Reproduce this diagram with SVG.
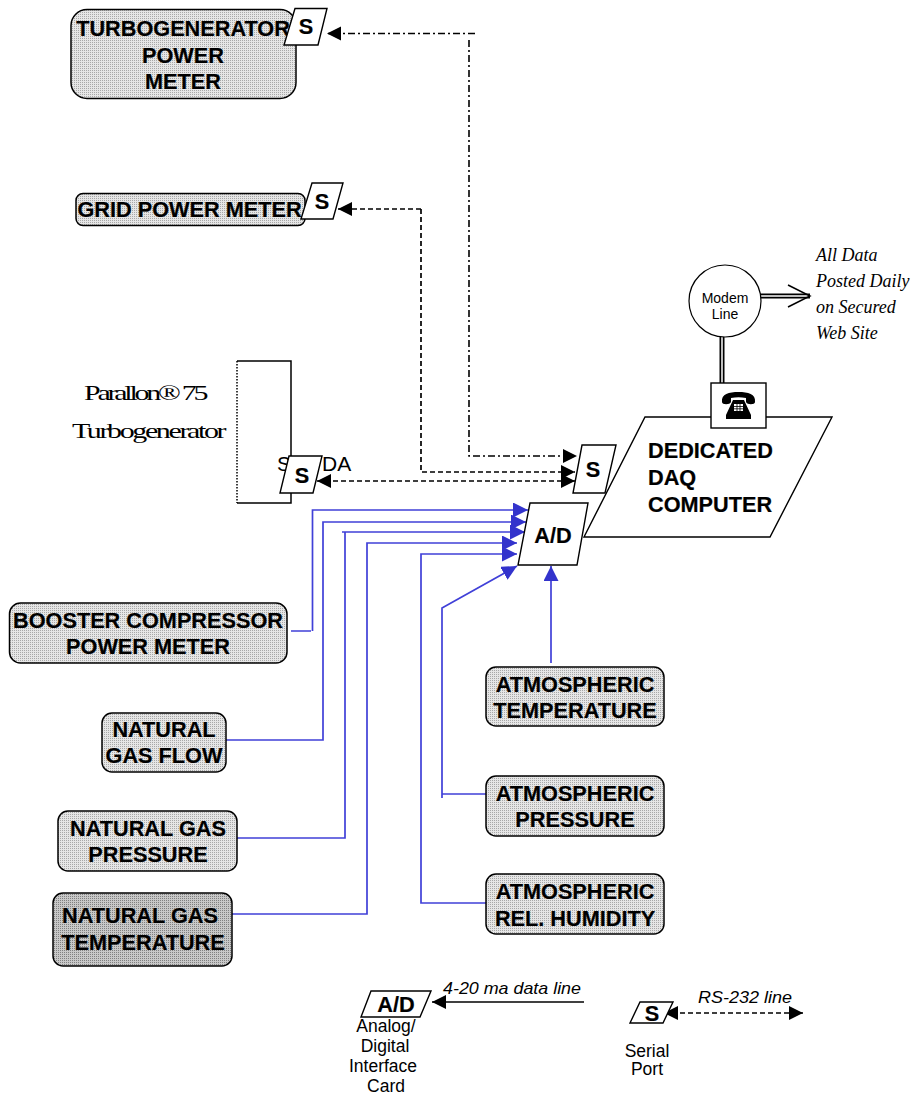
<svg xmlns="http://www.w3.org/2000/svg" width="912" height="1095" viewBox="0 0 912 1095">
<style>
text{font-family:"Liberation Sans",Arial,sans-serif;fill:#000}
.b{font-weight:bold;font-size:21.7px;text-anchor:middle;stroke:#000;stroke-width:.2}
.box{stroke:#000;stroke-width:1.5;fill:url(#dots)}
.dark{fill:url(#dotsDark)}
.para{fill:#fff;stroke:#000;stroke-width:1.4}
.lab{font-size:17.5px;text-anchor:middle}
.it{font-family:"Liberation Serif","Times New Roman",serif;font-style:italic;font-size:18px}
.si{font-style:italic;font-size:17px}
.ser{font-family:"Liberation Serif","Times New Roman",serif;font-size:20px}
.blue{fill:none;stroke:#4040d8;stroke-width:1.7}
.bh{marker-end:url(#ah)}
.dash{fill:none;stroke:#000;stroke-width:1.7;stroke-dasharray:5 3}
.dd{fill:none;stroke:#000;stroke-width:1.6;stroke-dasharray:7 3 2 3}
.sol{fill:none;stroke:#000;stroke-width:1.5}
</style>
<defs>
<pattern id="dots" width="2" height="2" patternUnits="userSpaceOnUse"><rect width="2" height="2" fill="#e6e6e6"/><rect width="1" height="1" fill="#a8a8a8"/></pattern>
<pattern id="dotsDark" width="2" height="2" patternUnits="userSpaceOnUse"><rect width="2" height="2" fill="#c8c8c8"/><rect width="1" height="1" fill="#808080"/></pattern>
<marker id="ah" markerUnits="userSpaceOnUse" markerWidth="16" markerHeight="16" refX="15" refY="7.500" orient="auto"><path d="M0 0L15 7.500L0 15Z" fill="#3333cc"/></marker>
<marker id="k" markerUnits="userSpaceOnUse" markerWidth="15" markerHeight="15" refX="14" refY="7" orient="auto"><path d="M0 0L14 7L0 14Z" fill="#000"/></marker>
<marker id="ks" markerUnits="userSpaceOnUse" markerWidth="15" markerHeight="15" refX="0" refY="7" orient="auto"><path d="M14 0L0 7L14 14Z" fill="#000"/></marker>
</defs>

<g id="turbine">
<path d="M237 361H291V503H237" class="sol"/>
<path d="M237 361V503" fill="none" stroke="#000" stroke-width="1.5" stroke-dasharray="1.5 1.5"/>
<text class="ser" transform="translate(84,400) scale(1.5,1)" textLength="83" lengthAdjust="spacing">Parallon® 75</text>
<text class="ser" transform="translate(72,438) scale(1.5,1)" textLength="103" lengthAdjust="spacing">Turbogenerator</text>
<text x="277" y="471" font-size="21">S</text>
<text x="322" y="471" font-size="21">DA</text>
</g>

<g id="connectors">
<path class="dd" d="M475 33.500H327" marker-end="url(#k)"/>
<path class="dd" d="M469 40V456H577" marker-end="url(#k)"/>
<path class="dash" d="M421 209H338" marker-end="url(#k)"/>
<path class="dash" d="M421 209V472H575" marker-end="url(#k)"/>
<path class="dash" d="M317 481H575" marker-start="url(#ks)" marker-end="url(#k)"/>
<path class="blue bh" d="M291 631H311M312.500 631V510H528"/>
<path class="blue bh" d="M226 740H323V522H526"/>
<path class="blue bh" d="M237 838H345V532M342 532H525"/>
<path class="blue bh" d="M226 914H367V543H517"/>
<path class="blue bh" d="M486 903H421V554H517"/>
<path class="blue bh" d="M486 794H442M442 798V608L517 566"/>
<path class="blue bh" d="M551 663V566"/>
<path d="M722 337V383" fill="none" stroke="#000" stroke-width="5"/>
<path d="M722 337V383" fill="none" stroke="#fff" stroke-width="1.500"/>
<path d="M761 296H810" fill="none" stroke="#000" stroke-width="5"/>
<path d="M761 296H808" fill="none" stroke="#fff" stroke-width="1.500"/>
<path d="M788 285L810 296L788 307" class="sol"/>
<path class="sol" d="M584 1002H432" marker-end="url(#k)"/>
<path class="dash" d="M664 1013H803" marker-start="url(#ks)" marker-end="url(#k)"/>
</g>

<g id="turbogenerator-power-meter">
<rect class="box" x="71" y="9.500" width="225" height="89" rx="16"/>
<text class="b" x="183" y="36">TURBOGENERATOR</text>
<text class="b" x="183" y="63">POWER</text>
<text class="b" x="183" y="89">METER</text>
</g>
<g id="turbogenerator-serial">
<path class="para" d="M295 8.500H327L318 45H284Z"/>
<text class="b" x="306" y="34">S</text>
</g>
<g id="grid-power-meter">
<rect class="box" x="76" y="193.500" width="229" height="32" rx="7"/>
<text class="b" x="189.500" y="217">GRID POWER METER</text>
</g>
<g id="grid-serial">
<path class="para" d="M312 183H343L333 219H301Z"/>
<text class="b" x="322" y="209">S</text>
</g>
<g id="turbine-serial">
<path class="para" d="M289 456H322L313 493H280Z"/>
<text class="b" x="302" y="483">S</text>
</g>
<g id="daq-computer">
<path class="para" d="M645 417H832L770 537H584Z"/>
<text class="b" x="648" y="458" style="text-anchor:start">DEDICATED</text>
<text class="b" x="648" y="485" style="text-anchor:start">DAQ</text>
<text class="b" x="648" y="512" style="text-anchor:start">COMPUTER</text>
</g>
<g id="daq-serial">
<path class="para" d="M582 445H616L605 493H573Z"/>
<text class="b" x="593" y="477">S</text>
</g>
<g id="ad-card">
<path class="para" d="M530 503H588L577 565H518Z"/>
<text class="b" x="553" y="543">A/D</text>
</g>
<g id="telephone">
<rect x="711" y="383" width="55" height="45" fill="#fff" stroke="#000" stroke-width="1.4"/>
<path d="M722 402C721 394 729 392 738.500 392C748 392 756 394 755 402C755 405 747 405 746 402L746 398C741 397 736 397 731 398L731 402C730 405 722 405 722 402Z" fill="#000"/>
<path d="M733 400H744L751 415V419H726V415Z" fill="#000"/>
<rect x="734" y="404" width="9" height="7" fill="#fff"/>
<path d="M737 404V411M740 404V411M734 406.500H743M734 408.800H743" stroke="#000" stroke-width=".8"/>
</g>
<g id="modem-line">
<circle cx="725" cy="301" r="36" fill="#fff" stroke="#000" stroke-width="1.200"/>
<text x="725" y="302.500" font-size="14" text-anchor="middle">Modem</text>
<text x="725" y="319" font-size="14" text-anchor="middle">Line</text>
</g>
<g id="web-note">
<text class="it" x="816" y="261">All Data</text>
<text class="it" x="816" y="287">Posted Daily</text>
<text class="it" x="816" y="313">on Secured</text>
<text class="it" x="816" y="339">Web Site</text>
</g>
<g id="booster-compressor-power-meter">
<rect class="box" x="9.500" y="603" width="277.500" height="60" rx="11"/>
<text class="b" x="148" y="628">BOOSTER COMPRESSOR</text>
<text class="b" x="148" y="654">POWER METER</text>
</g>
<g id="natural-gas-flow">
<rect class="box" x="102" y="713" width="124" height="59" rx="10"/>
<text class="b" x="164" y="737">NATURAL</text>
<text class="b" x="164" y="763">GAS FLOW</text>
</g>
<g id="natural-gas-pressure">
<rect class="box" x="58" y="811" width="179" height="60" rx="10"/>
<text class="b" x="148" y="836">NATURAL GAS</text>
<text class="b" x="148" y="862">PRESSURE</text>
</g>
<g id="natural-gas-temperature">
<rect class="box dark" x="53" y="893" width="179" height="73" rx="10"/>
<text class="b" x="140" y="923">NATURAL GAS</text>
<text class="b" x="143" y="950">TEMPERATURE</text>
</g>
<g id="atmospheric-temperature">
<rect class="box" x="486" y="667" width="178" height="59" rx="10"/>
<text class="b" x="575" y="692">ATMOSPHERIC</text>
<text class="b" x="575" y="718">TEMPERATURE</text>
</g>
<g id="atmospheric-pressure">
<rect class="box" x="486" y="776" width="178" height="60" rx="10"/>
<text class="b" x="575" y="801">ATMOSPHERIC</text>
<text class="b" x="575" y="827">PRESSURE</text>
</g>
<g id="atmospheric-humidity">
<rect class="box" x="486" y="874" width="178" height="60" rx="10"/>
<text class="b" x="575" y="899">ATMOSPHERIC</text>
<text class="b" x="575" y="926">REL. HUMIDITY</text>
</g>
<g id="legend-ad">
<path class="para" d="M371 991H431L420 1017H361Z"/>
<text class="b" x="396" y="1012">A/D</text>
<text class="si" x="443" y="994" textLength="138" lengthAdjust="spacingAndGlyphs">4-20 ma data line</text>
<text class="lab" x="386" y="1032">Analog/</text>
<text class="lab" x="385" y="1052">Digital</text>
<text class="lab" x="383" y="1072">Interface</text>
<text class="lab" x="386" y="1092">Card</text>
</g>
<g id="legend-serial">
<path class="para" d="M640 1002H673L663 1023H630Z"/>
<text class="b" x="652" y="1021">S</text>
<text class="si" x="698" y="1003" textLength="94" lengthAdjust="spacingAndGlyphs">RS-232 line</text>
<text class="lab" x="647" y="1057">Serial</text>
<text class="lab" x="647" y="1075">Port</text>
</g>
</svg>
